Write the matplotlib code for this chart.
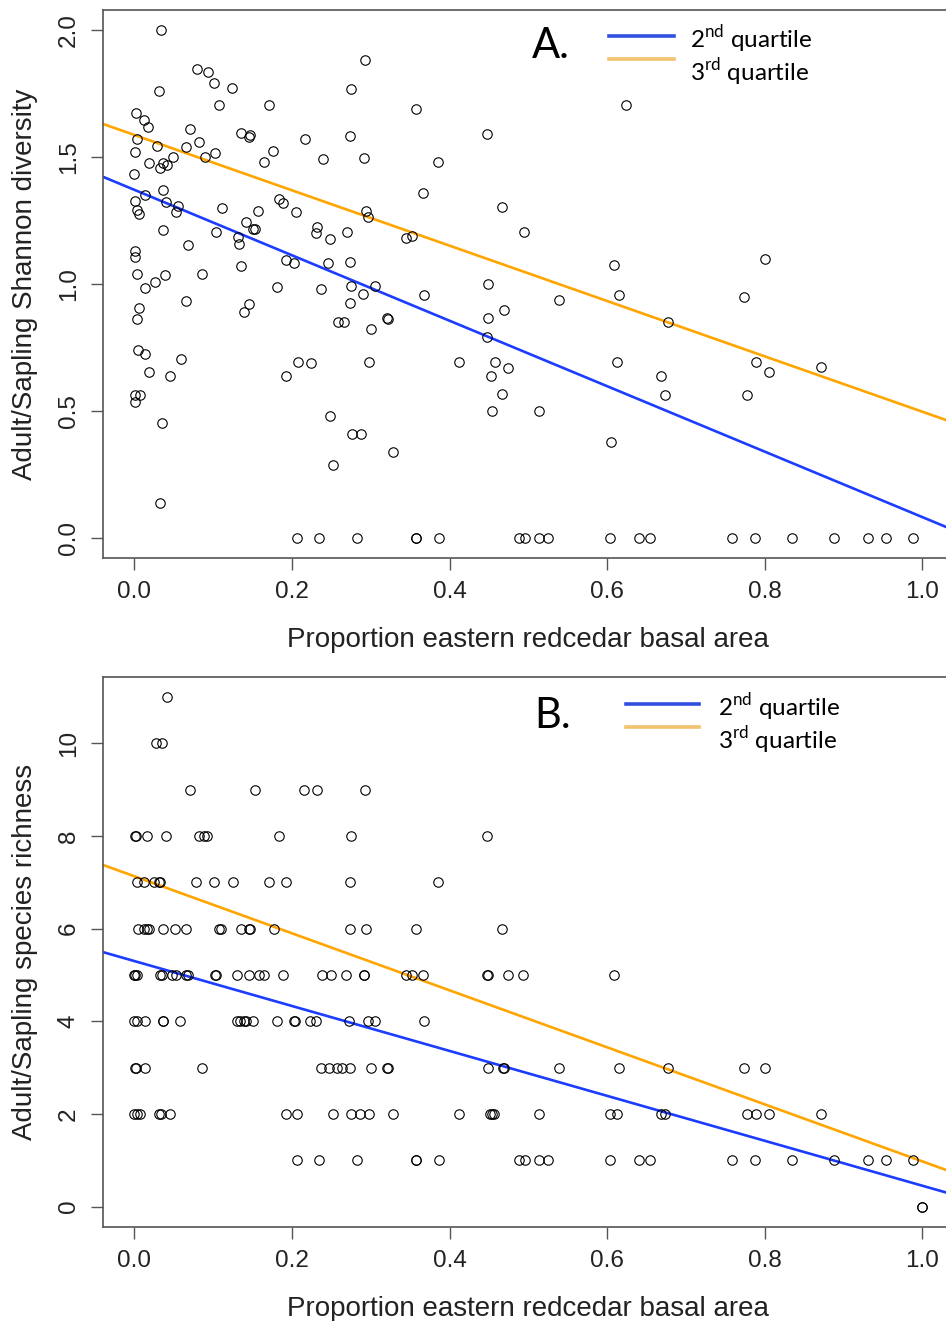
import numpy as np
import matplotlib.pyplot as plt
from matplotlib.lines import Line2D

# panel A: Shannon diversity vs proportion redcedar basal area
a_x = [0.034, 0.079, 0.093, 0.101, 0.124, 0.032, 0.293, 0.275, 0.357, 0.108,
       0.171, 0.002, 0.013, 0.017, 0.071, 0.136, 0.147, 0.146, 0.274, 0.217,
       0.004, 0.029, 0.066, 0.082, 0.001, 0.102, 0.090, 0.176, 0.049, 0.239,
       0.292, 0.019, 0.037, 0.041, 0.033, 0.164, 0.000, 0.014, 0.036, 0.001,
       0.040, 0.055, 0.053, 0.004, 0.006, 0.111, 0.184, 0.189, 0.205, 0.157,
       0.142, 0.151, 0.153, 0.232, 0.230, 0.248, 0.270, 0.294, 0.296, 0.345,
       0.352, 0.036, 0.104, 0.132, 0.133, 0.068, 0.001, 0.001, 0.192, 0.203,
       0.246, 0.274, 0.136, 0.003, 0.039, 0.086, 0.026, 0.014, 0.181, 0.237,
       0.275, 0.306, 0.366, 0.290, 0.274, 0.006, 0.066, 0.139, 0.146, 0.003,
       0.258, 0.266, 0.321, 0.322, 0.301, 0.005, 0.014, 0.059, 0.298, 0.208,
       0.224, 0.019, 0.046, 0.193, 0.001, 0.007, 0.001, 0.035, 0.248, 0.276,
       0.288, 0.328, 0.252, 0.033, 0.624, 0.447, 0.385, 0.467, 0.494, 0.609,
       0.800, 0.449, 0.368, 0.615, 0.774, 0.539, 0.469, 0.449, 0.677, 0.448,
       0.412, 0.458, 0.474, 0.453, 0.612, 0.789, 0.805, 0.871, 0.668, 0.673,
       0.778, 0.467, 0.454, 0.514, 0.605,
       0.207, 0.235, 0.282, 0.357, 0.357, 0.387, 0.488, 0.496, 0.514, 0.525,
       0.603, 0.641, 0.654, 0.758, 0.788, 0.835, 0.888, 0.931, 0.954, 0.988]
a_y = [2.000, 1.845, 1.835, 1.790, 1.770, 1.760, 1.880, 1.766, 1.690, 1.706,
       1.706, 1.672, 1.646, 1.620, 1.609, 1.596, 1.587, 1.578, 1.584, 1.572,
       1.570, 1.543, 1.540, 1.560, 1.518, 1.516, 1.500, 1.522, 1.500, 1.491,
       1.498, 1.475, 1.478, 1.469, 1.458, 1.479, 1.434, 1.350, 1.369, 1.328,
       1.324, 1.306, 1.283, 1.291, 1.277, 1.299, 1.333, 1.319, 1.283, 1.287,
       1.243, 1.218, 1.218, 1.223, 1.200, 1.176, 1.206, 1.289, 1.264, 1.181,
       1.190, 1.214, 1.205, 1.186, 1.159, 1.152, 1.129, 1.105, 1.093, 1.083,
       1.083, 1.088, 1.072, 1.039, 1.034, 1.039, 1.007, 0.984, 0.987, 0.980,
       0.993, 0.993, 1.358, 0.961, 0.926, 0.907, 0.933, 0.891, 0.922, 0.862,
       0.849, 0.852, 0.867, 0.861, 0.824, 0.741, 0.723, 0.706, 0.693, 0.693,
       0.688, 0.654, 0.637, 0.637, 0.563, 0.563, 0.535, 0.451, 0.479, 0.409,
       0.409, 0.337, 0.287, 0.137, 1.705, 1.591, 1.480, 1.302, 1.205, 1.073,
       1.100, 0.999, 0.957, 0.955, 0.950, 0.937, 0.898, 0.867, 0.849, 0.790,
       0.693, 0.693, 0.668, 0.637, 0.693, 0.693, 0.652, 0.673, 0.637, 0.563,
       0.563, 0.567, 0.501, 0.501, 0.378,
       0, 0, 0, 0, 0, 0, 0, 0, 0, 0,
       0, 0, 0, 0, 0, 0, 0, 0, 0, 0]

# panel B: species richness (integer levels)
b_x = [0.041,
       0.028, 0.035,
       0.071, 0.153, 0.216, 0.232, 0.293,
       0.001, 0.002, 0.016, 0.040, 0.082, 0.088, 0.092, 0.184, 0.275, 0.447,
       0.003, 0.013, 0.025, 0.031, 0.033, 0.078, 0.101, 0.125, 0.171, 0.192,
       0.274, 0.385,
       0.005, 0.012, 0.016, 0.019, 0.037, 0.052, 0.066, 0.107, 0.110, 0.136,
       0.146, 0.147, 0.177, 0.274, 0.294, 0.357, 0.467,
       0.000, 0.001, 0.003, 0.033, 0.035, 0.048, 0.053, 0.066, 0.068, 0.103,
       0.104, 0.131, 0.145, 0.158, 0.164, 0.189, 0.238, 0.249, 0.269, 0.291,
       0.292, 0.345, 0.352, 0.366, 0.448, 0.449, 0.474, 0.493, 0.609,
       0.000, 0.003, 0.014, 0.036, 0.037, 0.058, 0.130, 0.134, 0.139, 0.142,
       0.151, 0.181, 0.203, 0.204, 0.223, 0.230, 0.273, 0.296, 0.306, 0.368,
       0.001, 0.002, 0.014, 0.086, 0.237, 0.247, 0.257, 0.264, 0.274, 0.301,
       0.321, 0.322, 0.449, 0.468, 0.469, 0.539, 0.615, 0.677, 0.774, 0.800,
       0.000, 0.003, 0.007, 0.031, 0.034, 0.046, 0.193, 0.207, 0.252, 0.275,
       0.287, 0.298, 0.328, 0.412, 0.451, 0.454, 0.457, 0.514, 0.604, 0.612,
       0.668, 0.673, 0.778, 0.789, 0.805, 0.871,
       0.207, 0.235, 0.282, 0.357, 0.358, 0.387, 0.488, 0.496, 0.514, 0.525,
       0.603, 0.641, 0.654, 0.758, 0.788, 0.835, 0.888, 0.931, 0.954, 0.988,
       1.000, 1.000]
b_y = ([11] + [10] * 2 + [9] * 5 + [8] * 10 + [7] * 12 + [6] * 17
       + [5] * 29 + [4] * 20 + [3] * 20 + [2] * 26 + [1] * 20 + [0] * 2)

# fitted lines (intercept, slope) for the 2nd and 3rd quartile
fit_names = ['nd', 'rd']
fit_nums = ['2', '3']
fit_cols = ['#1c3cff', '#ffa500']
leg_cols = ['#3050e0', '#f2c270']
a_icpt = [1.371, 1.587]
a_slope = [-1.289, -1.090]
b_icpt = [5.30, 7.13]
b_slope = [-4.85, -6.155]

xlab = 'Proportion eastern redcedar basal area'

plt.rcParams['font.family'] = ['Liberation Sans', 'DejaVu Sans']
plt.rcParams['mathtext.fontset'] = 'custom'
plt.rcParams['mathtext.rm'] = 'Lato'

W, H = 946, 1321
fig = plt.figure(figsize=(W / 100, H / 100), dpi=100)


def fx(px):
    return px / W


def fy(py):
    return 1 - py / H


def panel(rect, x, y, icpt, slope, ylim, yticks, yticklabs, ylab, tag, leg):
    l, t, r, b = rect
    ax = fig.add_axes([fx(l), fy(b), fx(r - l), (b - t) / H])
    ax.plot(x, y, 'o', mfc='none', mec='black', ms=6.8, mew=0.8, zorder=3)
    xx = np.array([-0.04, 1.04])
    for i in range(2):
        ax.plot(xx, icpt[i] + slope[i] * xx, color=fit_cols[i], lw=1.9, zorder=2)
    ax.set_xlim(-0.04, 1.04)
    ax.set_ylim(*ylim)
    ax.set_xticks([0, 0.2, 0.4, 0.6, 0.8, 1.0])
    ax.set_xticklabels(['0.0', '0.2', '0.4', '0.6', '0.8', '1.0'])
    ax.set_yticks(yticks)
    ax.set_yticklabels(yticklabs, rotation=90, va='center')
    for s in ax.spines.values():
        s.set_color('#555555')
        s.set_linewidth(1.2)
    ax.tick_params(length=8.5, width=1.0, color='#555555', labelsize=17.5,
                   labelcolor='#222222')
    ax.tick_params(axis='x', pad=8)
    ax.tick_params(axis='y', pad=8)
    ax.set_xlabel(xlab, fontsize=20, color='#222222', labelpad=17)
    ax.set_ylabel(ylab, fontsize=20, color='#222222', labelpad=14)

    # panel tag and pasted-in legend
    lx0, lx1, ly, ty, tx, tagx, tagy = leg
    fig.text(fx(tagx), fy(tagy), tag, fontsize=30, family='Lato', va='baseline')
    for i in range(2):
        fig.add_artist(Line2D([fx(lx0), fx(lx1)], [fy(ly[i]), fy(ly[i])],
                              color=leg_cols[i], lw=2.6))
        fig.text(fx(tx), fy(ty[i]),
                 fit_nums[i] + r'$^{\mathregular{' + fit_names[i] + '}}$ quartile',
                 fontsize=17.5, family='Lato', va='baseline')
    return ax


panel((102.7, 9.7, 954, 558.3), a_x, a_y, a_icpt, a_slope, (-0.08, 2.08),
      [0, 0.5, 1.0, 1.5, 2.0], ['0.0', '0.5', '1.0', '1.5', '2.0'],
      'Adult/Sapling Shannon diversity', 'A.',
      (609, 674, [36, 59], [48, 81], 690, 532, 58))

panel((102.7, 676.5, 954, 1227), b_x, b_y, b_icpt, b_slope, (-0.44, 11.44),
      [0, 2, 4, 6, 8, 10], ['0', '2', '4', '6', '8', '10'],
      'Adult/Sapling species richness', 'B.',
      (626, 699, [704, 727], [716, 749], 718, 534, 728))

fig.savefig('out.png', dpi=100)
